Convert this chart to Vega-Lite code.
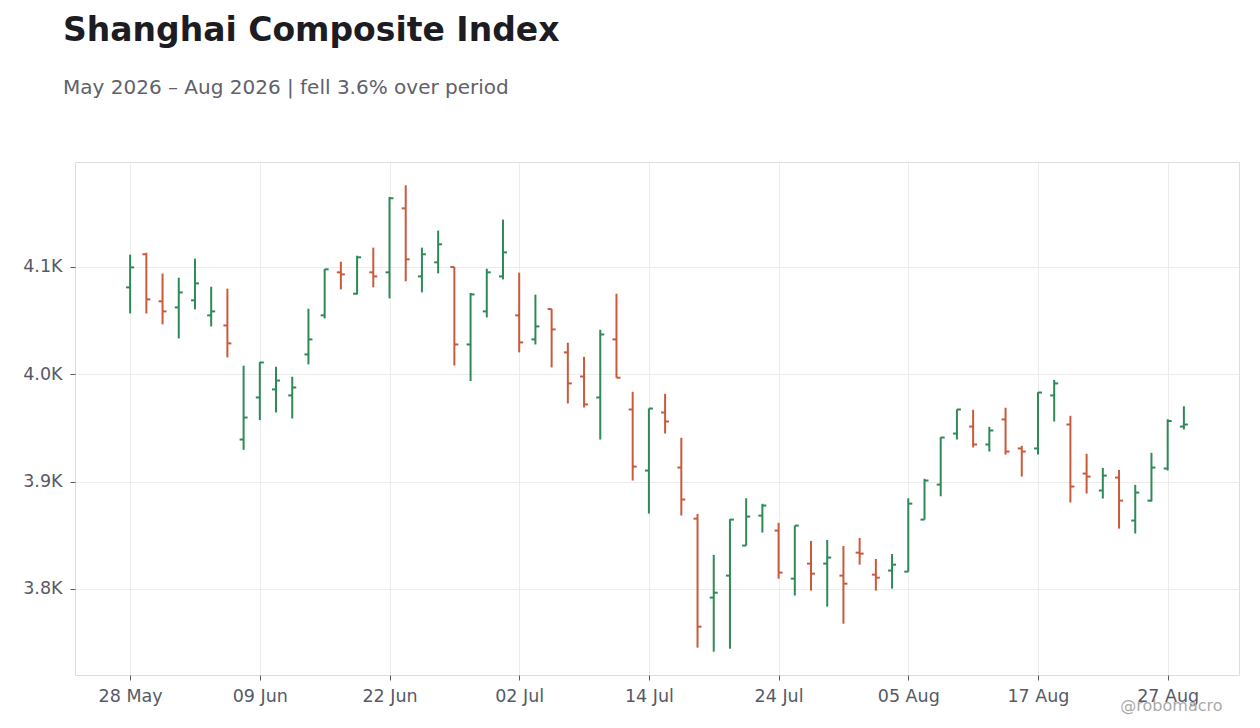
{
  "$schema": "https://vega.github.io/schema/vega-lite/v6.json",
  "width": 1164,
  "height": 513,
  "autosize": {"type": "none"},
  "padding": {"left": 75, "top": 162, "right": 21, "bottom": 53},
  "background": "#ffffff",
  "config": {
    "font": "DejaVu Sans",
    "view": {"stroke": "#dddddd", "strokeWidth": 1},
    "axis": {"labelFont": "DejaVu Sans", "titleFont": "DejaVu Sans"}
  },
  "title": {
    "text": "Shanghai Composite Index",
    "subtitle": "May 2026 – Aug 2026 | fell 3.6% over period",
    "anchor": "start",
    "frame": "group",
    "dx": -12,
    "offset": 64,
    "fontSize": 33,
    "fontWeight": "bold",
    "color": "#1c1c22",
    "subtitleFontSize": 20,
    "subtitleColor": "#60616b",
    "subtitlePadding": 30
  },
  "data": {
    "values": [
      {"i": 0, "d": "28 May", "o": 4081.0, "h": 4111.5, "l": 4056.7, "c": 4099.6},
      {"i": 1, "d": "29 May", "o": 4111.8, "h": 4113.3, "l": 4056.7, "c": 4069.8},
      {"i": 2, "d": "01 Jun", "o": 4068.0, "h": 4093.8, "l": 4046.5, "c": 4058.6},
      {"i": 3, "d": "02 Jun", "o": 4062.3, "h": 4090.0, "l": 4033.4, "c": 4076.3},
      {"i": 4, "d": "03 Jun", "o": 4068.9, "h": 4107.7, "l": 4060.5, "c": 4084.7},
      {"i": 5, "d": "04 Jun", "o": 4054.9, "h": 4081.6, "l": 4044.6, "c": 4058.6},
      {"i": 6, "d": "05 Jun", "o": 4045.5, "h": 4079.8, "l": 4015.7, "c": 4028.8},
      {"i": 7, "d": "08 Jun", "o": 3939.2, "h": 4008.0, "l": 3929.6, "c": 3959.7},
      {"i": 8, "d": "09 Jun", "o": 3978.4, "h": 4011.4, "l": 3957.3, "c": 4011.0},
      {"i": 9, "d": "10 Jun", "o": 3985.9, "h": 4007.0, "l": 3964.4, "c": 3994.2},
      {"i": 10, "d": "11 Jun", "o": 3980.3, "h": 3997.7, "l": 3958.8, "c": 3987.7},
      {"i": 11, "d": "12 Jun", "o": 4018.5, "h": 4061.1, "l": 4009.2, "c": 4032.5},
      {"i": 12, "d": "15 Jun", "o": 4054.9, "h": 4098.1, "l": 4052.1, "c": 4097.8},
      {"i": 13, "d": "16 Jun", "o": 4095.0, "h": 4104.9, "l": 4079.1, "c": 4093.1},
      {"i": 14, "d": "17 Jun", "o": 4075.1, "h": 4110.5, "l": 4074.4, "c": 4109.0},
      {"i": 15, "d": "18 Jun", "o": 4095.0, "h": 4118.0, "l": 4081.0, "c": 4091.2},
      {"i": 16, "d": "22 Jun", "o": 4095.0, "h": 4165.3, "l": 4070.7, "c": 4164.0},
      {"i": 17, "d": "23 Jun", "o": 4154.6, "h": 4176.1, "l": 4086.6, "c": 4107.1},
      {"i": 18, "d": "24 Jun", "o": 4091.2, "h": 4118.0, "l": 4076.3, "c": 4111.8},
      {"i": 19, "d": "25 Jun", "o": 4104.3, "h": 4133.9, "l": 4094.0, "c": 4121.1},
      {"i": 20, "d": "26 Jun", "o": 4100.0, "h": 4100.0, "l": 4008.2, "c": 4027.8},
      {"i": 21, "d": "29 Jun", "o": 4027.8, "h": 4075.8, "l": 3993.7, "c": 4074.4},
      {"i": 22, "d": "30 Jun", "o": 4058.6, "h": 4098.4, "l": 4053.0, "c": 4095.0},
      {"i": 23, "d": "01 Jul", "o": 4091.2, "h": 4144.1, "l": 4088.4, "c": 4113.6},
      {"i": 24, "d": "02 Jul", "o": 4054.9, "h": 4094.7, "l": 4020.4, "c": 4029.7},
      {"i": 25, "d": "03 Jul", "o": 4032.5, "h": 4074.2, "l": 4027.8, "c": 4044.6},
      {"i": 26, "d": "06 Jul", "o": 4060.8, "h": 4060.8, "l": 4006.4, "c": 4041.8},
      {"i": 27, "d": "07 Jul", "o": 4020.4, "h": 4029.4, "l": 3972.8, "c": 3991.5},
      {"i": 28, "d": "08 Jul", "o": 3997.9, "h": 4016.3, "l": 3969.1, "c": 3971.9},
      {"i": 29, "d": "09 Jul", "o": 3978.4, "h": 4041.5, "l": 3939.2, "c": 4037.1},
      {"i": 30, "d": "10 Jul", "o": 4032.5, "h": 4075.1, "l": 3996.8, "c": 3996.8},
      {"i": 31, "d": "13 Jul", "o": 3967.2, "h": 3983.7, "l": 3901.0, "c": 3914.0},
      {"i": 32, "d": "14 Jul", "o": 3910.3, "h": 3968.1, "l": 3870.2, "c": 3968.1},
      {"i": 33, "d": "15 Jul", "o": 3964.4, "h": 3981.8, "l": 3944.8, "c": 3956.0},
      {"i": 34, "d": "16 Jul", "o": 3913.1, "h": 3940.8, "l": 3868.4, "c": 3883.3},
      {"i": 35, "d": "17 Jul", "o": 3865.5, "h": 3869.9, "l": 3745.3, "c": 3764.8},
      {"i": 36, "d": "20 Jul", "o": 3791.9, "h": 3831.7, "l": 3741.5, "c": 3796.5},
      {"i": 37, "d": "21 Jul", "o": 3812.4, "h": 3865.0, "l": 3744.3, "c": 3864.6},
      {"i": 38, "d": "22 Jul", "o": 3840.4, "h": 3884.5, "l": 3840.4, "c": 3867.4},
      {"i": 39, "d": "23 Jul", "o": 3868.3, "h": 3879.3, "l": 3852.5, "c": 3877.7},
      {"i": 40, "d": "24 Jul", "o": 3854.4, "h": 3861.6, "l": 3809.6, "c": 3815.2},
      {"i": 41, "d": "27 Jul", "o": 3809.6, "h": 3859.0, "l": 3793.8, "c": 3859.0},
      {"i": 42, "d": "28 Jul", "o": 3823.6, "h": 3844.7, "l": 3798.4, "c": 3814.2},
      {"i": 43, "d": "29 Jul", "o": 3823.6, "h": 3845.7, "l": 3783.5, "c": 3829.2},
      {"i": 44, "d": "30 Jul", "o": 3812.4, "h": 3840.0, "l": 3767.6, "c": 3804.9},
      {"i": 45, "d": "31 Jul", "o": 3833.8, "h": 3847.5, "l": 3822.6, "c": 3832.9},
      {"i": 46, "d": "03 Aug", "o": 3813.3, "h": 3827.9, "l": 3798.4, "c": 3810.5},
      {"i": 47, "d": "04 Aug", "o": 3817.1, "h": 3832.6, "l": 3800.3, "c": 3822.6},
      {"i": 48, "d": "05 Aug", "o": 3816.1, "h": 3884.5, "l": 3816.1, "c": 3879.5},
      {"i": 49, "d": "06 Aug", "o": 3864.6, "h": 3902.6, "l": 3864.6, "c": 3901.0},
      {"i": 50, "d": "07 Aug", "o": 3897.2, "h": 3941.4, "l": 3886.3, "c": 3941.1},
      {"i": 51, "d": "10 Aug", "o": 3944.8, "h": 3967.3, "l": 3939.2, "c": 3967.2},
      {"i": 52, "d": "11 Aug", "o": 3951.3, "h": 3966.9, "l": 3931.8, "c": 3934.6},
      {"i": 53, "d": "12 Aug", "o": 3934.6, "h": 3951.0, "l": 3928.0, "c": 3947.6},
      {"i": 54, "d": "13 Aug", "o": 3957.9, "h": 3968.8, "l": 3925.2, "c": 3928.0},
      {"i": 55, "d": "14 Aug", "o": 3930.9, "h": 3933.4, "l": 3904.7, "c": 3928.0},
      {"i": 56, "d": "17 Aug", "o": 3930.9, "h": 3983.4, "l": 3925.2, "c": 3983.0},
      {"i": 57, "d": "18 Aug", "o": 3980.3, "h": 3994.8, "l": 3956.0, "c": 3991.5},
      {"i": 58, "d": "19 Aug", "o": 3953.2, "h": 3961.3, "l": 3880.5, "c": 3895.4},
      {"i": 59, "d": "20 Aug", "o": 3907.5, "h": 3925.9, "l": 3888.9, "c": 3904.7},
      {"i": 60, "d": "21 Aug", "o": 3891.7, "h": 3912.8, "l": 3884.2, "c": 3905.6},
      {"i": 61, "d": "24 Aug", "o": 3903.8, "h": 3910.9, "l": 3856.2, "c": 3882.3},
      {"i": 62, "d": "25 Aug", "o": 3863.7, "h": 3897.0, "l": 3851.6, "c": 3889.8},
      {"i": 63, "d": "26 Aug", "o": 3882.3, "h": 3926.8, "l": 3881.4, "c": 3913.1},
      {"i": 64, "d": "27 Aug", "o": 3912.2, "h": 3958.1, "l": 3910.3, "c": 3956.5},
      {"i": 65, "d": "28 Aug", "o": 3951.3, "h": 3970.2, "l": 3948.6, "c": 3953.2}
    ]
  },
  "encoding": {
    "x": {
      "field": "i",
      "type": "quantitative",
      "scale": {"domain": [-3.4, 68.4], "nice": false, "zero": false},
      "axis": {
        "values": [0, 8, 16, 24, 32, 40, 48, 56, 64],
        "labelExpr": "['28 May','09 Jun','22 Jun','02 Jul','14 Jul','24 Jul','05 Aug','17 Aug','27 Aug'][round(datum.value / 8)]",
        "labelFontSize": 17.5,
        "labelColor": "#555a66",
        "labelPadding": 7,
        "labelFlush": false,
        "labelOverlap": false,
        "tickSize": 5,
        "tickColor": "#555a66",
        "domain": false,
        "grid": true,
        "gridColor": "#ececec",
        "title": "@robomacro",
        "titleFontSize": 16,
        "titleFontWeight": "normal",
        "titleColor": "#aaaaaa",
        "titleAlign": "right",
        "titleAnchor": null,
        "titleBaseline": "alphabetic",
        "titleX": 1147,
        "titleY": 35
      }
    },
    "color": {
      "condition": {"test": "datum.c >= datum.o", "value": "#2e8b57"},
      "value": "#c95a3b"
    }
  },
  "layer": [
    {
      "mark": {"type": "rule", "strokeWidth": 2},
      "encoding": {
        "y": {
          "field": "l",
          "type": "quantitative",
          "scale": {"domain": [3719.8, 4197.8], "nice": false, "zero": false},
          "axis": {
            "values": [3800, 3900, 4000, 4100],
            "labelExpr": "format(datum.value / 1000, '.1f') + 'K'",
            "labelFontSize": 17.5,
            "labelColor": "#555a66",
            "labelPadding": 8,
            "tickSize": 5,
            "tickColor": "#555a66",
            "domain": false,
            "grid": true,
            "gridColor": "#ececec",
            "title": null
          }
        },
        "y2": {"field": "h"}
      }
    },
    {
      "mark": {"type": "tick", "orient": "horizontal", "size": 4, "thickness": 2, "xOffset": -2, "opacity": 1},
      "encoding": {"y": {"field": "o", "type": "quantitative"}}
    },
    {
      "mark": {"type": "tick", "orient": "horizontal", "size": 4, "thickness": 2, "xOffset": 2, "opacity": 1},
      "encoding": {"y": {"field": "c", "type": "quantitative"}}
    }
  ]
}
